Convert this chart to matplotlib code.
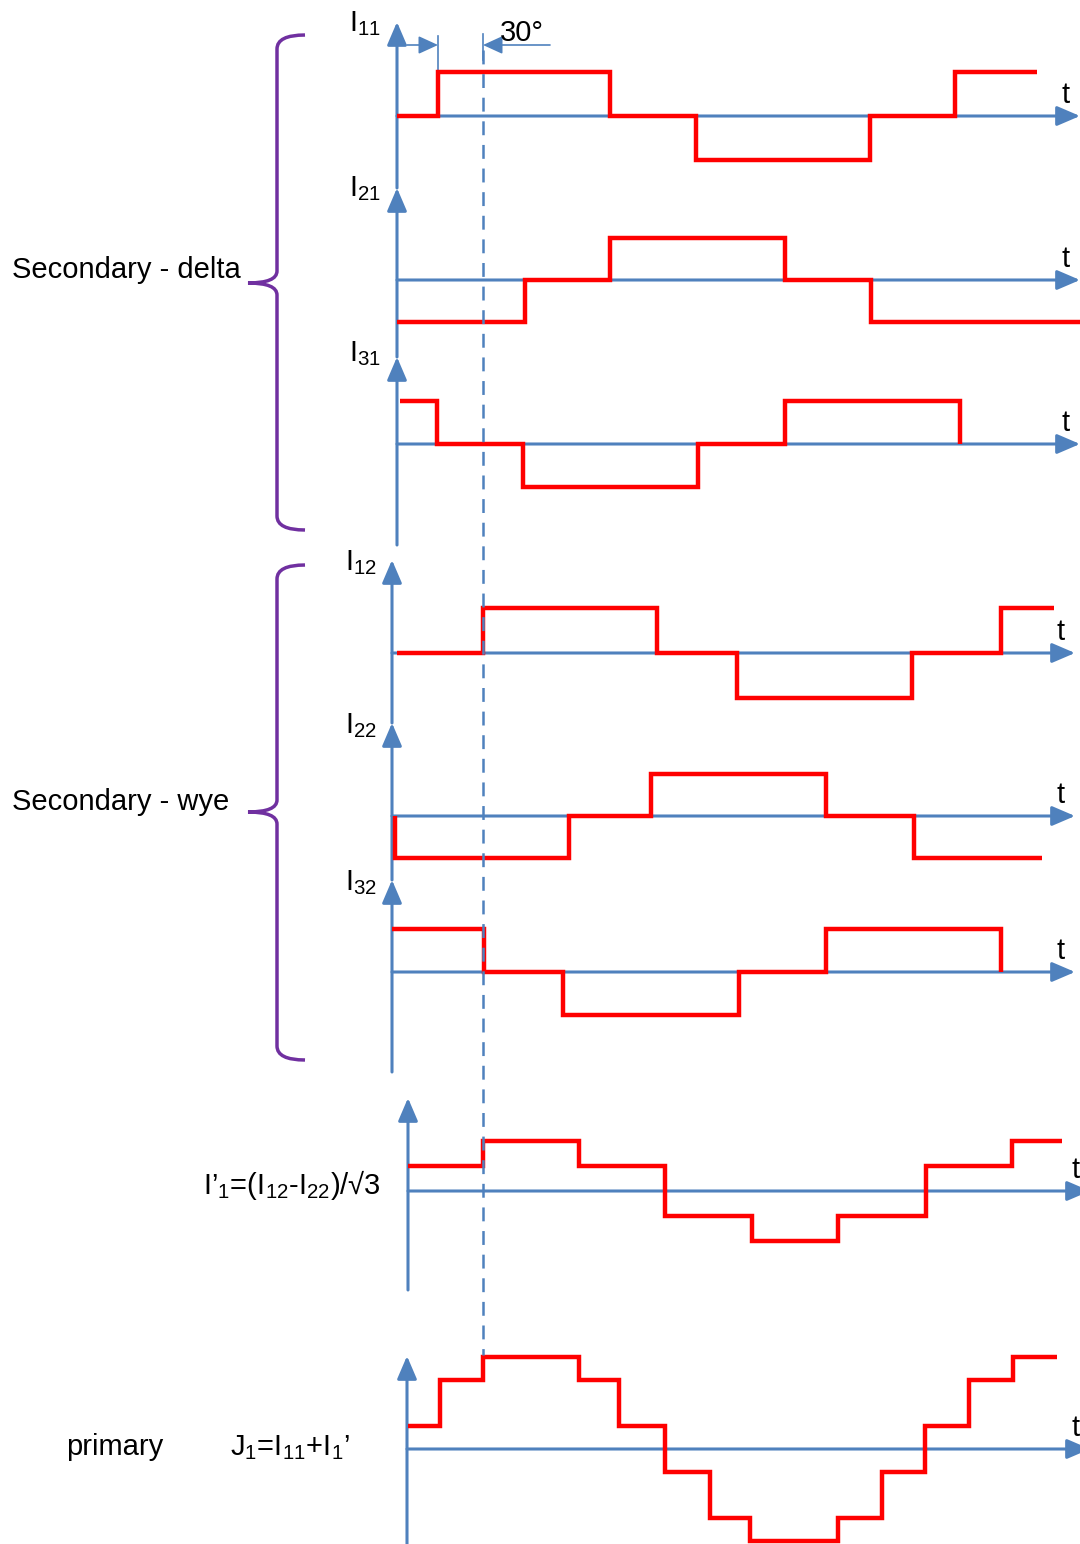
import numpy as np
import matplotlib
matplotlib.use("Agg")
import matplotlib.pyplot as plt
from matplotlib.path import Path
from matplotlib.patches import PathPatch, FancyArrowPatch

plt.rcParams['font.family'] = ['Liberation Sans', 'DejaVu Sans']
plt.rcParams['mathtext.fontset'] = 'custom'
plt.rcParams['mathtext.rm'] = 'Liberation Sans'
plt.rcParams['mathtext.it'] = 'Liberation Sans'
plt.rcParams['lines.scale_dashes'] = False

BLUE = '#4F81BD'
RED = '#FF0000'
PURPLE = '#7030A0'
FS = 21

# waveforms: switching instants (time axis, px) and levels (units of amplitude)
i11_t = [397, 438, 610, 696, 870, 955, 1037]
i11_v = [0, 1, 0, -1, 0, 1]
i21_t = [397, 525, 610, 785, 871, 1080]
i21_v = [-1, 0, 1, 0, -1]
i31_t = [400, 437, 523, 698, 785, 960, 960]
i31_v = [1, 0, -1, 0, 1, 0]
i12_t = [397, 483, 657, 737, 912, 1001, 1054]
i12_v = [0, 1, 0, -1, 0, 1]
i22_t = [395, 395, 569, 651, 826, 914, 1042]
i22_v = [0, -1, 0, 1, 0, -1]
i32_t = [392, 484, 563, 739, 826, 1001, 1001]
i32_v = [1, 0, -1, 0, 1, 0]
ip1_t = [408, 483, 579, 665, 752, 838, 926, 1012, 1062]
ip1_v = [0.5, 1, 0.5, -0.5, -1, -0.5, 0.5, 1]
j1_t = [408, 440, 483, 579, 619, 665, 710, 750, 838, 882, 925, 969, 1013, 1057]
j1_v = [0.5, 1.5, 2, 1.5, 0.5, -0.5, -1.5, -2, -1.5, -0.5, 0.5, 1.5, 2]

fig = plt.figure(figsize=(10.8, 15.44), dpi=100)
ax = fig.add_axes([0, 0, 1, 1])
ax.set_xlim(0, 1080)
ax.set_ylim(1544, 0)
ax.axis('off')


def arrow(x0, y0, x1, y1, lw=2.2, hl=14, hw=6):
    a = FancyArrowPatch((x0, y0), (x1, y1),
                        arrowstyle='-|>,head_length=%g,head_width=%g' % (hl, hw),
                        mutation_scale=1, color=BLUE, lw=lw,
                        shrinkA=0, shrinkB=0, zorder=2)
    ax.add_patch(a)


def wave(t, v, y0, amp):
    vals = y0 - amp * np.array(v, dtype=float)
    ax.stairs(vals, t, baseline=None, color=RED, lw=3.2,
              joinstyle='miter', zorder=3)


# (axis y, amplitude, time axis start, time axis end)
panels = [
    (i11_t, i11_v, 116, 44, 397, 1080),
    (i21_t, i21_v, 280, 42, 397, 1080),
    (i31_t, i31_v, 444, 43, 397, 1080),
    (i12_t, i12_v, 653, 45, 392, 1075),
    (i22_t, i22_v, 816, 42, 392, 1075),
    (i32_t, i32_v, 972, 43, 392, 1075),
    (ip1_t, ip1_v, 1191, 50, 408, 1090),
    (j1_t, j1_v, 1449, 46, 407, 1090),
]
for t, v, y0, amp, xs, xe in panels:
    arrow(xs, y0, xe, y0)
    wave(t, v, y0, amp)
    ax.text(xe - 14, y0 - 13, 't', fontsize=FS, ha='center', va='baseline')

# vertical axes
arrow(397, 545, 397, 357)
arrow(397, 357, 397, 188)
arrow(397, 188, 397, 22)
arrow(392, 1072, 392, 880)
arrow(392, 880, 392, 723)
arrow(392, 723, 392, 560)
arrow(408, 1290, 408, 1098)
arrow(407, 1560, 407, 1356)

# labels of the currents
ax.text(349, 31, r'I$_{11}$', fontsize=FS, va='baseline')
ax.text(349, 196, r'I$_{21}$', fontsize=FS, va='baseline')
ax.text(349, 361, r'I$_{31}$', fontsize=FS, va='baseline')
ax.text(345, 570, r'I$_{12}$', fontsize=FS, va='baseline')
ax.text(345, 733, r'I$_{22}$', fontsize=FS, va='baseline')
ax.text(345, 890, r'I$_{32}$', fontsize=FS, va='baseline')
ax.text(203, 1194, r'I’$_{1}$=(I$_{12}$-I$_{22}$)/√3', fontsize=FS, va='baseline')
ax.text(66, 1455, 'primary', fontsize=FS, va='baseline')
ax.text(230, 1455, r'J$_{1}$=I$_{11}$+I$_{1}$’', fontsize=FS, va='baseline')
ax.text(12, 278, 'Secondary - delta', fontsize=FS, va='baseline')
ax.text(12, 810, 'Secondary - wye', fontsize=FS, va='baseline')

# 30 degree dimension
ax.plot([438, 438], [36, 72], color=BLUE, lw=1.2, zorder=2)
ax.plot([483, 483], [34, 60], color=BLUE, lw=1.2, zorder=2)
arrow(407, 45, 438, 45, lw=1.2, hl=12, hw=5.5)
arrow(550, 45, 483, 45, lw=1.2, hl=12, hw=5.5)
ax.text(500, 41, '30°', fontsize=FS, va='baseline')

# dashed reference line
ax.plot([483, 483], [50, 1355], color=BLUE, lw=1.8, dashes=(10, 7), zorder=4)


def brace(x, top, mid, bot, tip, end):
    verts = [(end, top), (x, top), (x, top + 14), (x, mid - 12), (x, mid),
             (tip, mid), (x, mid), (x, mid + 12), (x, bot - 14), (x, bot),
             (end, bot)]
    codes = [Path.MOVETO, Path.CURVE3, Path.CURVE3, Path.LINETO, Path.CURVE3,
             Path.CURVE3, Path.CURVE3, Path.CURVE3, Path.LINETO, Path.CURVE3,
             Path.CURVE3]
    ax.add_patch(PathPatch(Path(verts, codes), fill=False, color=PURPLE,
                           lw=2.5, capstyle='butt'))


brace(277, 35, 283, 530, 248, 305)
brace(277, 565, 812, 1060, 248, 305)

fig.savefig('out.png', dpi=100)
plt.close(fig)
